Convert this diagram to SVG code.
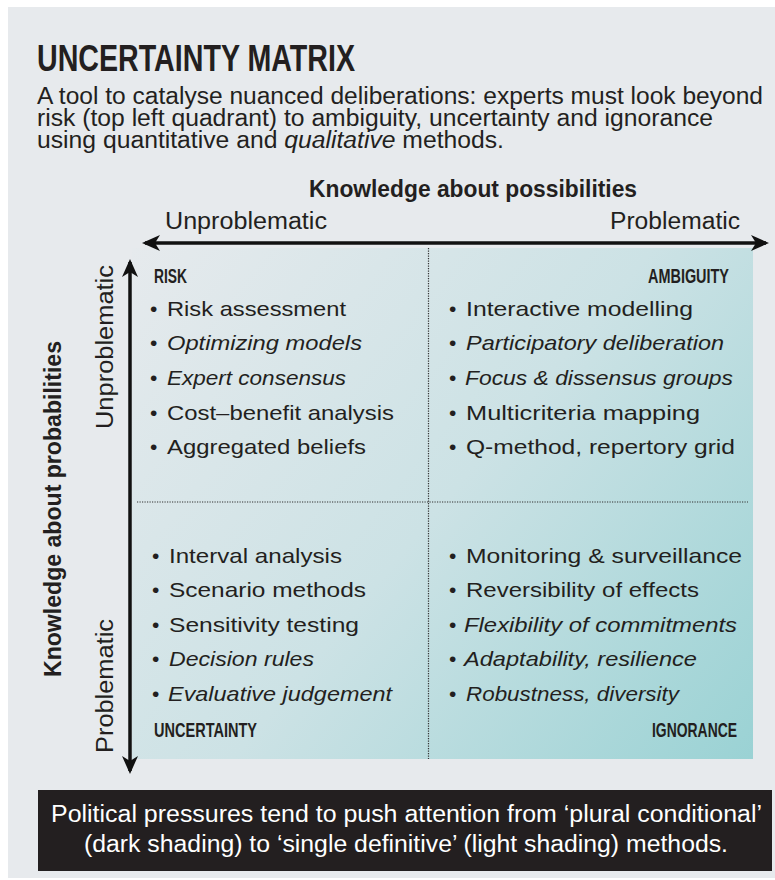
<svg xmlns="http://www.w3.org/2000/svg" width="775" height="880" viewBox="0 0 775 880">
<defs>
<linearGradient id="shade" x1="132" y1="248" x2="753" y2="760" gradientUnits="userSpaceOnUse">
<stop offset="0" stop-color="#e6eaed"/>
<stop offset="0.5" stop-color="#cce2e5"/>
<stop offset="1" stop-color="#9ad2d4"/>
</linearGradient>
<marker id="ah" viewBox="0 0 18 18" refX="15" refY="9" markerWidth="18" markerHeight="18" markerUnits="userSpaceOnUse" orient="auto-start-reverse">
<path d="M0,1 L18,9 L0,17 L5,9 Z" fill="#111"/>
</marker>
<style>
.cond{font-family:"Liberation Sans Narrow","Liberation Sans",Arial,sans-serif;fill:#231f20}
.bold{font-weight:bold}
.item{font-family:"Liberation Sans",Arial,sans-serif;font-size:21px;fill:#231f20}
.it{font-style:italic}
.ql{font-family:"Liberation Sans Narrow","Liberation Sans",Arial,sans-serif;font-weight:bold;font-size:21px;fill:#231f20}
.dot{stroke:#333;stroke-width:1.2;stroke-dasharray:1.2 1.3;fill:none}
.axis{stroke:#111;stroke-width:3.5;fill:none}
.wt{fill:#ffffff}
</style>
</defs>
<rect x="0" y="0" width="775" height="880" fill="#ffffff"/>
<rect x="8" y="7" width="767" height="871" fill="#e7eaed"/>

<g id="header">
<text class="cond bold" x="37" y="71" font-size="36" textLength="318" lengthAdjust="spacingAndGlyphs">UNCERTAINTY MATRIX</text>
<text class="cond" x="37" y="104" font-size="23" textLength="726" lengthAdjust="spacingAndGlyphs">A tool to catalyse nuanced deliberations: experts must look beyond</text>
<text class="cond" x="37" y="126" font-size="23" textLength="676" lengthAdjust="spacingAndGlyphs">risk (top left quadrant) to ambiguity, uncertainty and ignorance</text>
<text class="cond" x="37" y="148" font-size="23" textLength="467" lengthAdjust="spacingAndGlyphs">using quantitative and <tspan font-style="italic">qualitative</tspan> methods.</text>
</g>

<g id="matrix-bg">
<rect x="132" y="248" width="621" height="511" fill="url(#shade)"/>
</g>

<g id="connectors">
<line class="axis" x1="145" y1="243" x2="766" y2="243" marker-start="url(#ah)" marker-end="url(#ah)"/>
<line class="axis" x1="130" y1="262" x2="130" y2="771" marker-start="url(#ah)" marker-end="url(#ah)"/>
<line class="dot" x1="428.5" y1="248" x2="428.5" y2="759"/>
<line class="dot" x1="137" y1="502" x2="748" y2="502"/>
</g>

<g id="axis-labels">
<text class="cond bold" x="309" y="197" font-size="23" textLength="328" lengthAdjust="spacingAndGlyphs">Knowledge about possibilities</text>
<text class="cond" x="165" y="229" font-size="23" textLength="162" lengthAdjust="spacingAndGlyphs">Unproblematic</text>
<text class="cond" x="610" y="229" font-size="23" textLength="130" lengthAdjust="spacingAndGlyphs">Problematic</text>
<text class="cond bold" transform="translate(61,677) rotate(-90)" x="0" y="0" font-size="23" textLength="336" lengthAdjust="spacingAndGlyphs">Knowledge about probabilities</text>
<text class="cond" transform="translate(113,429) rotate(-90)" x="0" y="0" font-size="23" textLength="164" lengthAdjust="spacingAndGlyphs">Unproblematic</text>
<text class="cond" transform="translate(113,753) rotate(-90)" x="0" y="0" font-size="23" textLength="134" lengthAdjust="spacingAndGlyphs">Problematic</text>
</g>

<g id="risk">
<text class="ql" x="154" y="283" textLength="33" lengthAdjust="spacingAndGlyphs">RISK</text>
<text class="item" x="150" y="316">•</text><text class="item" x="167" y="316" textLength="179" lengthAdjust="spacingAndGlyphs">Risk assessment</text>
<text class="item" x="150" y="350">•</text><text class="item it" x="167" y="350" textLength="195" lengthAdjust="spacingAndGlyphs">Optimizing models</text>
<text class="item" x="150" y="385">•</text><text class="item it" x="167" y="385" textLength="179" lengthAdjust="spacingAndGlyphs">Expert consensus</text>
<text class="item" x="150" y="420">•</text><text class="item" x="167" y="420" textLength="227" lengthAdjust="spacingAndGlyphs">Cost–benefit analysis</text>
<text class="item" x="150" y="454">•</text><text class="item" x="167" y="454" textLength="199" lengthAdjust="spacingAndGlyphs">Aggregated beliefs</text>
</g>

<g id="ambiguity">
<text class="ql" x="729" y="283" text-anchor="end" textLength="81" lengthAdjust="spacingAndGlyphs">AMBIGUITY</text>
<text class="item" x="449" y="316">•</text><text class="item" x="466" y="316" textLength="227" lengthAdjust="spacingAndGlyphs">Interactive modelling</text>
<text class="item" x="449" y="350">•</text><text class="item it" x="466" y="350" textLength="258" lengthAdjust="spacingAndGlyphs">Participatory deliberation</text>
<text class="item" x="449" y="385">•</text><text class="item it" x="465" y="385" textLength="268" lengthAdjust="spacingAndGlyphs">Focus &amp; dissensus groups</text>
<text class="item" x="449" y="420">•</text><text class="item" x="466" y="420" textLength="234" lengthAdjust="spacingAndGlyphs">Multicriteria mapping</text>
<text class="item" x="449" y="454">•</text><text class="item" x="466" y="454" textLength="269" lengthAdjust="spacingAndGlyphs">Q-method, repertory grid</text>
</g>

<g id="uncertainty">
<text class="item" x="152" y="563">•</text><text class="item" x="169" y="563" textLength="173" lengthAdjust="spacingAndGlyphs">Interval analysis</text>
<text class="item" x="152" y="597">•</text><text class="item" x="169" y="597" textLength="197" lengthAdjust="spacingAndGlyphs">Scenario methods</text>
<text class="item" x="152" y="632">•</text><text class="item" x="169" y="632" textLength="190" lengthAdjust="spacingAndGlyphs">Sensitivity testing</text>
<text class="item" x="152" y="666">•</text><text class="item it" x="169" y="666" textLength="145" lengthAdjust="spacingAndGlyphs">Decision rules</text>
<text class="item" x="152" y="701">•</text><text class="item it" x="168" y="701" textLength="224" lengthAdjust="spacingAndGlyphs">Evaluative judgement</text>
<text class="ql" x="154" y="737" textLength="103" lengthAdjust="spacingAndGlyphs">UNCERTAINTY</text>
</g>

<g id="ignorance">
<text class="item" x="449" y="563">•</text><text class="item" x="466" y="563" textLength="276" lengthAdjust="spacingAndGlyphs">Monitoring &amp; surveillance</text>
<text class="item" x="449" y="597">•</text><text class="item" x="466" y="597" textLength="233" lengthAdjust="spacingAndGlyphs">Reversibility of effects</text>
<text class="item" x="449" y="632">•</text><text class="item it" x="464" y="632" textLength="273" lengthAdjust="spacingAndGlyphs">Flexibility of commitments</text>
<text class="item" x="449" y="666">•</text><text class="item it" x="464" y="666" textLength="233" lengthAdjust="spacingAndGlyphs">Adaptability, resilience</text>
<text class="item" x="449" y="701">•</text><text class="item it" x="466" y="701" textLength="213" lengthAdjust="spacingAndGlyphs">Robustness, diversity</text>
<text class="ql" x="737" y="737" text-anchor="end" textLength="85" lengthAdjust="spacingAndGlyphs">IGNORANCE</text>
</g>

<g id="footer">
<rect x="38" y="790" width="734" height="81" fill="#231f20"/>
<text class="cond wt" x="51" y="822" font-size="23" textLength="711" lengthAdjust="spacingAndGlyphs">Political pressures tend to push attention from ‘plural conditional’</text>
<text class="cond wt" x="84" y="852" font-size="23" textLength="644" lengthAdjust="spacingAndGlyphs">(dark shading) to ‘single definitive’ (light shading) methods.</text>
</g>
</svg>
